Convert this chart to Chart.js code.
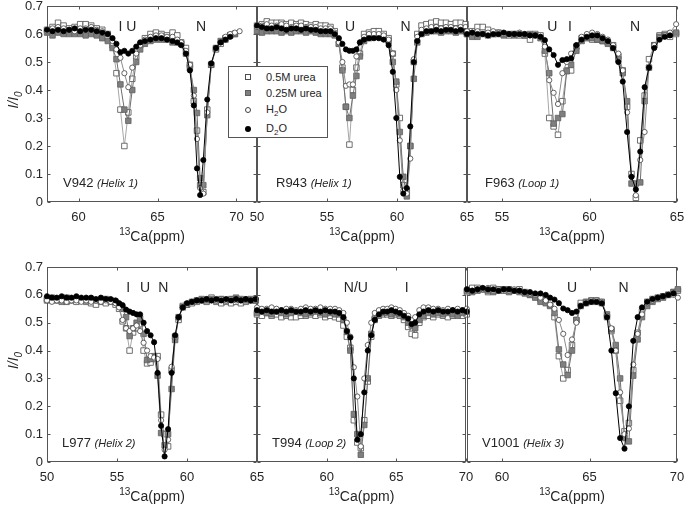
<!DOCTYPE html>
<html>
<head>
<meta charset="utf-8">
<script src="https://cdn.jsdelivr.net/npm/chart.js@4.4.1/dist/chart.umd.min.js"></script>
<style>
  body { margin: 0; background: #fff; width: 685px; height: 506px; position: relative; overflow: hidden;
         font-family: "Liberation Sans", Arial, sans-serif; }
  canvas { position: absolute; }
  #legend { position: absolute; left: 228px; top: 66px; width: 98px; height: 70px; background: #fff;
            border: 1px solid #555; z-index: 10; color: #262626; font-size: 11px; }
  #legend .mk { position: absolute; box-sizing: border-box; }
  #legend .tx { position: absolute; left: 37px; white-space: nowrap; line-height: 12px; }
  #legend sub { font-size: 8px; vertical-align: -3px; }
</style>
</head>
<body>
<div id="legend">
  <span class="mk" style="left:16px;top:7px;width:6px;height:6px;border:1px solid #4d4d4d;background:#fff"></span>
  <span class="tx" style="top:4px">0.5M urea</span>
  <span class="mk" style="left:16px;top:23px;width:6px;height:6px;border:1px solid #5f5f5f;background:#7f7f7f"></span>
  <span class="tx" style="top:20px">0.25M urea</span>
  <span class="mk" style="left:16px;top:40px;width:6px;height:6px;border:1px solid #404040;border-radius:50%;background:#fff"></span>
  <span class="tx" style="top:36px">H<sub>2</sub>O</span>
  <span class="mk" style="left:16px;top:59px;width:6px;height:6px;border-radius:50%;background:#000"></span>
  <span class="tx" style="top:55px">D<sub>2</sub>O</span>
</div>
<script>
// ---- V942 (Helix 1) ----
const x_V942 = [58.0, 58.35, 58.7, 59.05, 59.4, 59.75, 60.1, 60.45, 60.8, 61.15, 61.5, 61.85, 62.15, 62.4, 62.65, 62.9, 63.15, 63.4, 63.65, 63.9, 64.2, 64.55, 64.9, 65.25, 65.6, 65.95, 66.25, 66.5, 66.8, 67.05, 67.3, 67.5, 67.7, 67.9, 68.15, 68.4, 68.7, 69.0, 69.3, 69.6, 69.9, 70.2];
const u05_V942 = [0.615, 0.625, 0.64, 0.63, 0.62, 0.625, 0.635, 0.635, 0.63, 0.62, 0.615, 0.60, 0.56, 0.46, 0.33, 0.20, 0.32, 0.44, 0.52, 0.56, 0.585, 0.60, 0.605, 0.60, 0.595, 0.605, 0.595, 0.57, 0.55, 0.49, 0.36, 0.255, 0.06, 0.035, 0.33, 0.49, 0.545, 0.565, 0.58, 0.595, 0.60, null];
const u025_V942 = [0.605, 0.595, 0.605, 0.60, 0.60, 0.60, 0.60, 0.595, 0.60, 0.595, 0.585, 0.575, 0.55, 0.51, 0.42, 0.33, 0.29, 0.40, 0.50, 0.545, 0.565, 0.575, 0.58, 0.58, 0.58, 0.57, 0.57, 0.565, 0.53, 0.48, 0.40, 0.318, 0.085, 0.06, 0.31, 0.49, 0.55, 0.575, 0.585, 0.595, 0.60, null];
const h2o_V942 = [0.61, 0.62, 0.625, 0.62, 0.615, 0.61, 0.62, 0.62, 0.625, 0.615, 0.61, 0.60, 0.575, 0.545, 0.515, 0.46, 0.41, 0.48, 0.53, 0.56, 0.58, 0.59, 0.595, 0.595, 0.59, 0.59, 0.58, 0.57, 0.54, 0.49, 0.38, 0.225, 0.05, 0.03, 0.32, 0.49, 0.55, 0.57, 0.59, 0.60, 0.605, 0.61];
const d2o_V942 = [0.615, 0.61, 0.615, 0.61, 0.615, 0.62, 0.61, 0.615, 0.615, 0.61, 0.605, 0.60, 0.585, 0.565, 0.535, 0.54, 0.53, 0.54, 0.555, 0.57, 0.575, 0.58, 0.585, 0.585, 0.58, 0.575, 0.57, 0.56, 0.53, 0.47, 0.345, 0.12, 0.025, 0.15, 0.366, 0.495, 0.55, 0.57, 0.58, 0.59, null, null];

// ---- R943 (Helix 1) ----
const x_R943 = [50.0, 50.35, 50.7, 51.05, 51.4, 51.75, 52.1, 52.45, 52.8, 53.15, 53.5, 53.85, 54.2, 54.55, 54.9, 55.25, 55.55, 55.85, 56.1, 56.35, 56.6, 56.85, 57.1, 57.35, 57.65, 58.0, 58.35, 58.7, 59.05, 59.4, 59.7, 59.95, 60.2, 60.45, 60.7, 60.95, 61.2, 61.45, 61.75, 62.1, 62.45, 62.8, 63.15, 63.5, 63.85, 64.2, 64.55, 64.9];
const u05_R943 = [0.63, 0.635, 0.645, 0.64, 0.64, 0.64, 0.635, 0.64, 0.635, 0.64, 0.635, 0.63, 0.635, 0.63, 0.63, 0.625, 0.61, 0.565, 0.48, 0.34, 0.205, 0.40, 0.48, 0.53, 0.60, 0.605, 0.61, 0.61, 0.60, 0.585, 0.53, 0.42, 0.30, 0.06, 0.04, 0.20, 0.50, 0.60, 0.63, 0.635, 0.64, 0.645, 0.64, 0.64, 0.635, 0.64, 0.64, 0.635];
const u025_R943 = [0.61, 0.605, 0.61, 0.61, 0.61, 0.605, 0.61, 0.605, 0.61, 0.61, 0.605, 0.61, 0.605, 0.60, 0.60, 0.60, 0.595, 0.565, 0.47, 0.34, 0.30, 0.38, 0.45, 0.52, 0.575, 0.585, 0.59, 0.59, 0.585, 0.575, 0.50, 0.43, 0.25, 0.09, 0.02, 0.20, 0.44, 0.57, 0.60, 0.605, 0.61, 0.61, 0.605, 0.61, 0.61, 0.605, 0.61, 0.61];
const h2o_R943 = [0.625, 0.63, 0.635, 0.63, 0.63, 0.635, 0.63, 0.625, 0.63, 0.63, 0.625, 0.625, 0.625, 0.62, 0.62, 0.62, 0.605, 0.57, 0.50, 0.415, 0.42, 0.42, 0.52, 0.57, 0.59, 0.60, 0.60, 0.60, 0.595, 0.58, 0.53, 0.40, 0.22, 0.04, 0.03, 0.155, 0.51, 0.59, 0.615, 0.62, 0.625, 0.625, 0.62, 0.625, 0.625, 0.62, 0.625, 0.625];
const d2o_R943 = [0.63, 0.625, 0.62, 0.62, 0.625, 0.62, 0.615, 0.62, 0.62, 0.615, 0.62, 0.615, 0.615, 0.61, 0.61, 0.61, 0.60, 0.585, 0.565, 0.545, 0.54, 0.54, 0.545, 0.57, 0.58, 0.585, 0.585, 0.585, 0.58, 0.56, 0.465, 0.30, 0.09, 0.03, 0.05, 0.27, 0.50, 0.575, 0.60, 0.61, 0.61, 0.615, 0.61, 0.615, 0.615, 0.61, 0.615, 0.61];

// ---- F963 (Loop 1) ----
const x_F963 = [53.0, 53.3, 53.6, 53.9, 54.2, 54.5, 54.8, 55.1, 55.4, 55.7, 56.0, 56.3, 56.6, 56.9, 57.2, 57.45, 57.7, 57.95, 58.2, 58.45, 58.7, 58.95, 59.25, 59.55, 59.85, 60.15, 60.45, 60.75, 61.05, 61.35, 61.65, 61.9, 62.15, 62.4, 62.65, 62.9, 63.15, 63.4, 63.7, 64.0, 64.3, 64.6, 64.95];
const u05_F963 = [0.60, 0.61, 0.625, 0.625, 0.615, 0.60, 0.605, 0.60, 0.595, 0.60, 0.595, 0.595, 0.58, 0.60, 0.595, 0.53, 0.30, 0.27, 0.24, 0.36, 0.47, 0.47, 0.555, 0.585, 0.59, 0.58, 0.58, 0.575, 0.57, 0.56, 0.52, 0.47, 0.34, 0.10, 0.015, 0.22, 0.38, 0.51, 0.56, 0.595, 0.60, 0.59, 0.60];
const u025_F963 = [0.60, 0.59, 0.59, 0.60, 0.595, 0.60, 0.60, 0.595, 0.60, 0.595, 0.60, 0.595, 0.60, 0.595, 0.585, 0.54, 0.46, 0.28, 0.30, 0.314, 0.467, 0.49, 0.54, 0.575, 0.585, 0.585, 0.58, 0.575, 0.565, 0.55, 0.51, 0.46, 0.36, 0.066, 0.066, 0.07, 0.36, 0.48, 0.56, 0.59, 0.595, 0.60, 0.605];
const h2o_F963 = [0.61, 0.605, 0.61, 0.60, 0.605, 0.61, 0.605, 0.60, 0.60, 0.60, 0.605, 0.60, 0.595, 0.595, 0.59, 0.555, 0.435, 0.39, 0.35, 0.46, 0.50, 0.53, 0.56, 0.59, 0.60, 0.605, 0.60, 0.59, 0.58, 0.56, 0.53, 0.47, 0.32, 0.09, 0.024, 0.15, 0.25, 0.48, 0.56, 0.585, 0.595, 0.605, 0.635];
const d2o_F963 = [0.60, 0.605, 0.60, 0.60, 0.595, 0.60, 0.60, 0.605, 0.60, 0.60, 0.60, 0.60, 0.595, 0.595, 0.59, 0.578, 0.545, 0.525, 0.49, 0.507, 0.51, 0.513, 0.56, 0.58, 0.59, 0.595, 0.595, 0.585, 0.575, 0.55, 0.50, 0.43, 0.25, 0.09, 0.045, 0.18, 0.41, 0.48, 0.55, 0.58, 0.59, 0.595, null];

// ---- L977 (Helix 2) ----
const x_L977 = [50.0, 50.35, 50.7, 51.05, 51.4, 51.75, 52.1, 52.45, 52.8, 53.15, 53.5, 53.85, 54.2, 54.55, 54.9, 55.15, 55.4, 55.65, 55.9, 56.15, 56.4, 56.65, 56.9, 57.15, 57.4, 57.65, 57.9, 58.15, 58.4, 58.65, 58.9, 59.15, 59.4, 59.7, 60.0, 60.35, 60.7, 61.05, 61.4, 61.75, 62.1, 62.45, 62.8, 63.15, 63.5, 63.85, 64.2, 64.55, 64.9];
const u05_L977 = [0.58, 0.585, 0.58, 0.575, 0.575, 0.58, 0.575, 0.58, 0.575, 0.57, 0.565, 0.575, 0.57, 0.575, 0.565, 0.55, 0.505, 0.48, 0.40, 0.465, 0.48, 0.495, 0.40, 0.354, 0.357, 0.37, 0.38, 0.17, 0.10, 0.056, 0.33, 0.45, 0.51, 0.56, 0.565, 0.57, 0.575, 0.58, 0.575, 0.59, 0.575, 0.57, 0.575, 0.57, 0.575, 0.57, 0.575, 0.58, 0.58];
const u025_L977 = [0.585, 0.59, 0.585, 0.58, 0.59, 0.585, 0.585, 0.58, 0.58, 0.585, 0.58, 0.58, 0.585, 0.58, 0.575, 0.565, 0.55, 0.52, 0.452, 0.48, 0.50, 0.515, 0.46, 0.366, 0.37, 0.38, 0.31, 0.104, 0.06, 0.10, 0.262, 0.438, 0.52, 0.555, 0.565, 0.575, 0.58, 0.585, 0.58, 0.585, 0.58, 0.585, 0.58, 0.585, 0.59, 0.585, 0.58, 0.585, 0.58];
const h2o_L977 = [0.58, 0.575, 0.58, 0.58, 0.575, 0.58, 0.58, 0.575, 0.58, 0.575, 0.58, 0.575, 0.58, 0.575, 0.57, 0.555, 0.51, 0.48, 0.47, 0.48, 0.49, 0.47, 0.428, 0.40, 0.38, 0.375, 0.37, 0.15, 0.044, 0.08, 0.342, 0.45, 0.52, 0.555, 0.565, 0.575, 0.58, 0.58, 0.585, 0.58, 0.58, 0.585, 0.58, 0.585, 0.58, 0.58, 0.585, 0.58, 0.585];
const d2o_L977 = [0.595, 0.59, 0.59, 0.595, 0.59, 0.59, 0.595, 0.59, 0.59, 0.59, 0.585, 0.59, 0.585, 0.585, 0.58, 0.57, 0.563, 0.547, 0.54, 0.535, 0.53, 0.53, 0.50, 0.47, 0.455, 0.43, 0.32, 0.13, 0.02, 0.118, 0.32, 0.455, 0.52, 0.555, 0.57, 0.575, 0.58, 0.58, 0.585, 0.58, 0.585, 0.58, 0.585, 0.58, 0.585, 0.58, 0.585, 0.58, 0.585];

// ---- T994 (Loop 2) ----
const x_T994 = [55.0, 55.35, 55.7, 56.05, 56.4, 56.75, 57.1, 57.45, 57.8, 58.15, 58.5, 58.85, 59.2, 59.55, 59.9, 60.25, 60.6, 60.9, 61.2, 61.45, 61.7, 61.95, 62.2, 62.45, 62.7, 62.95, 63.2, 63.45, 63.75, 64.05, 64.35, 64.65, 64.95, 65.25, 65.55, 65.85, 66.1, 66.35, 66.65, 66.95, 67.3, 67.65, 68.0, 68.35, 68.7, 69.05, 69.4, 69.75, 70.05];
const u05_T994 = [0.53, 0.525, 0.535, 0.525, 0.53, 0.52, 0.525, 0.52, 0.52, 0.525, 0.525, 0.53, 0.525, 0.53, 0.52, 0.525, 0.52, 0.515, 0.49, 0.45, 0.41, 0.15, 0.07, 0.05, 0.15, 0.289, 0.45, 0.51, 0.525, 0.53, 0.53, 0.525, 0.53, 0.525, 0.51, 0.485, 0.46, 0.455, 0.50, 0.52, 0.525, 0.52, 0.53, 0.525, 0.52, 0.525, 0.53, 0.525, 0.53];
const u025_T994 = [0.535, 0.54, 0.535, 0.53, 0.54, 0.535, 0.53, 0.535, 0.54, 0.535, 0.53, 0.535, 0.54, 0.535, 0.53, 0.535, 0.53, 0.53, 0.51, 0.467, 0.40, 0.172, 0.10, 0.026, 0.133, 0.30, 0.46, 0.515, 0.53, 0.535, 0.535, 0.53, 0.535, 0.53, 0.52, 0.50, 0.49, 0.48, 0.51, 0.525, 0.535, 0.53, 0.535, 0.53, 0.535, 0.53, 0.525, 0.535, 0.54];
const h2o_T994 = [0.555, 0.55, 0.55, 0.555, 0.55, 0.545, 0.55, 0.55, 0.545, 0.55, 0.555, 0.55, 0.55, 0.555, 0.55, 0.55, 0.55, 0.545, 0.535, 0.50, 0.45, 0.34, 0.235, 0.056, 0.30, 0.42, 0.50, 0.535, 0.545, 0.55, 0.55, 0.555, 0.55, 0.545, 0.535, 0.525, 0.51, 0.52, 0.545, 0.555, 0.555, 0.55, 0.55, 0.545, 0.55, 0.545, 0.55, 0.545, 0.55];
const d2o_T994 = [0.545, 0.54, 0.545, 0.54, 0.54, 0.545, 0.54, 0.545, 0.54, 0.54, 0.545, 0.54, 0.545, 0.54, 0.545, 0.54, 0.54, 0.535, 0.52, 0.47, 0.447, 0.30, 0.08, 0.10, 0.25, 0.40, 0.455, 0.51, 0.53, 0.54, 0.54, 0.545, 0.54, 0.535, 0.525, 0.515, 0.495, 0.50, 0.53, 0.54, 0.545, 0.54, 0.545, 0.54, 0.54, 0.545, 0.54, 0.545, 0.54];

// ---- V1001 (Helix 3) ----
const x_V1001 = [58.0, 58.3, 58.6, 58.9, 59.2, 59.5, 59.8, 60.1, 60.4, 60.7, 61.0, 61.3, 61.6, 61.9, 62.2, 62.5, 62.75, 63.0, 63.25, 63.5, 63.75, 64.0, 64.25, 64.5, 64.8, 65.1, 65.4, 65.7, 66.0, 66.25, 66.5, 66.75, 67.0, 67.25, 67.5, 67.75, 68.0, 68.3, 68.6, 68.9, 69.2, 69.5, 69.8, 70.05];
const u05_V1001 = [0.61, 0.625, 0.625, 0.62, 0.61, 0.625, 0.62, 0.615, 0.62, 0.615, 0.62, 0.61, 0.60, 0.595, 0.585, 0.58, 0.563, 0.52, 0.38, 0.30, 0.33, 0.42, 0.51, 0.571, 0.575, 0.58, 0.58, 0.575, 0.52, 0.47, 0.40, 0.22, 0.11, 0.14, 0.33, 0.464, 0.54, 0.575, 0.585, 0.59, 0.595, 0.60, 0.61, 0.615];
const u025_V1001 = [0.615, 0.61, 0.615, 0.62, 0.615, 0.61, 0.615, 0.62, 0.61, 0.615, 0.61, 0.605, 0.60, 0.59, 0.575, 0.57, 0.56, 0.535, 0.404, 0.35, 0.312, 0.40, 0.509, 0.56, 0.57, 0.575, 0.575, 0.57, 0.53, 0.476, 0.42, 0.30, 0.086, 0.074, 0.31, 0.44, 0.52, 0.56, 0.575, 0.585, 0.59, 0.60, 0.61, 0.62];
const h2o_V1001 = [0.62, 0.615, 0.62, 0.62, 0.625, 0.615, 0.62, 0.62, 0.615, 0.62, 0.615, 0.61, 0.605, 0.60, 0.59, 0.58, 0.565, 0.55, 0.51, 0.46, 0.384, 0.44, 0.50, 0.56, 0.575, 0.58, 0.58, 0.575, 0.525, 0.48, 0.40, 0.25, 0.10, 0.12, 0.35, 0.46, 0.53, 0.57, 0.58, 0.59, 0.595, 0.60, 0.60, 0.59];
const d2o_V1001 = [0.62, 0.615, 0.62, 0.625, 0.62, 0.62, 0.615, 0.62, 0.62, 0.615, 0.615, 0.61, 0.61, 0.605, 0.605, 0.60, 0.59, 0.583, 0.57, 0.551, 0.545, 0.535, 0.54, 0.56, 0.57, 0.575, 0.575, 0.57, 0.52, 0.40, 0.247, 0.086, 0.048, 0.20, 0.435, 0.52, 0.555, 0.575, 0.585, 0.59, 0.595, 0.60, 0.605, null];

const yTicks = [0, 0.1, 0.2, 0.3, 0.4, 0.5, 0.6, 0.7];

const FONT = "'Liberation Sans', Arial, sans-serif";
const INK = '#262626';

// series look, MATLAB-like: plotted 0.5M first, D2O last (on top)
const styles = [
  { label: '0.5M urea',  line: '#a6a6a6', face: '#ffffff', edge: '#4d4d4d', shape: 'rect',   r: 3.9, order: 3 },
  { label: '0.25M urea', line: '#6e6e6e', face: '#7f7f7f', edge: '#5f5f5f', shape: 'rect',   r: 3.9, order: 2 },
  { label: 'H2O',        line: '#8c8c8c', face: '#ffffff', edge: '#404040', shape: 'circle', r: 2.6, order: 1 },
  { label: 'D2O',        line: '#000000', face: '#000000', edge: '#000000', shape: 'circle', r: 2.6, order: 0 }
];

// axes frame with inward ticks on all four sides
const frame = {
  id: 'frame',
  beforeDatasetsDraw(chart) {
    const { ctx, chartArea: a, scales: { x, y } } = chart;
    const l = Math.round(a.left) + 0.5, r = Math.round(a.right) - 0.5;
    const t = Math.round(a.top) + 0.5, b = Math.round(a.bottom) - 0.5;
    ctx.save();
    ctx.strokeStyle = '#555';
    ctx.lineWidth = 1;
    ctx.strokeRect(l, t, r - l, b - t);
    ctx.beginPath();
    x.ticks.forEach(tk => {
      const px = Math.round(x.getPixelForValue(tk.value)) + 0.5;
      ctx.moveTo(px, b); ctx.lineTo(px, b - 3);
      ctx.moveTo(px, t); ctx.lineTo(px, t + 3);
    });
    yTicks.forEach(v => {
      const py = Math.round(y.getPixelForValue(v)) + 0.5;
      ctx.moveTo(l, py); ctx.lineTo(l + 3, py);
      ctx.moveTo(r, py); ctx.lineTo(r - 3, py);
    });
    ctx.stroke();
    ctx.restore();
  }
};

// axis titles, state letters and residue name
const panelText = {
  id: 'panelText',
  afterDatasetsDraw(chart, args, o) {
    const { ctx, chartArea: a, scales: { x, y } } = chart;
    ctx.save();
    ctx.fillStyle = INK;
    ctx.textBaseline = 'middle';
    ctx.textAlign = 'center';
    ctx.font = '14px ' + FONT;
    o.marks.forEach(m => ctx.fillText(m.t, x.getPixelForValue(m.x), y.getPixelForValue(0.625)));

    // residue name + (secondary structure)
    ctx.textAlign = 'left';
    ctx.textBaseline = 'alphabetic';
    ctx.font = '13px ' + FONT;
    const nx = a.left + o.nameDx, ny = a.bottom - 15;
    ctx.fillText(o.name, nx, ny);
    const nw = ctx.measureText(o.name + ' ').width;
    ctx.font = 'italic 11px ' + FONT;
    ctx.fillText(o.tag, nx + nw, ny);

    // x title: 13Ca(ppm)
    ctx.font = '10px ' + FONT;
    const w1 = ctx.measureText('13').width;
    ctx.font = '14px ' + FONT;
    const w2 = ctx.measureText('Ca(ppm)').width;
    const sx = (a.left + a.right) / 2 - (w1 + w2) / 2, base = a.bottom + 39;
    ctx.font = '10px ' + FONT;
    ctx.fillText('13', sx, base - 6);
    ctx.font = '14px ' + FONT;
    ctx.fillText('Ca(ppm)', sx + w1, base);

    // y title: I/I0
    if (o.yTitle) {
      ctx.translate(18, (a.top + a.bottom) / 2 - 4);
      ctx.rotate(-Math.PI / 2);
      ctx.font = 'italic 14px ' + FONT;
      const t1 = ctx.measureText('I/I').width;
      ctx.font = 'italic 10px ' + FONT;
      const t2 = ctx.measureText('0').width;
      ctx.font = 'italic 14px ' + FONT;
      ctx.fillText('I/I', -(t1 + t2) / 2, 0);
      ctx.font = 'italic 10px ' + FONT;
      ctx.fillText('0', -(t1 + t2) / 2 + t1, 4);
    }
    ctx.restore();
  }
};

function panel(box, xMin, xMax, xTicks, xs, series, text, yLabels) {
  const [left, top, right, bottom] = box;
  const L = yLabels ? left : 12, T = top < 100 ? top : 20, R = 8, B = 44;
  const c = document.createElement('canvas');
  c.width = right - left + L + R;
  c.height = bottom - top + T + B;
  c.style.left = (left - L) + 'px';
  c.style.top = (top - T) + 'px';
  document.body.appendChild(c);

  new Chart(c, {
    type: 'scatter',
    data: {
      datasets: series.map((ys, i) => {
        const s = styles[i];
        return {
          label: s.label,
          data: xs.map((v, k) => ({ x: v, y: ys[k] })),
          showLine: true,
          borderColor: s.line,
          borderWidth: 1,
          pointStyle: s.shape,
          pointRadius: s.r,
          pointBackgroundColor: s.face,
          pointBorderColor: s.edge,
          pointBorderWidth: 0.8,
          order: s.order,
          clip: false
        };
      })
    },
    options: {
      responsive: false,
      animation: false,
      devicePixelRatio: 1,
      layout: { padding: { top: T, right: R, left: 0, bottom: 0 } },
      plugins: {
        legend: { display: false },
        tooltip: { enabled: false },
        panelText: text
      },
      scales: {
        x: {
          type: 'linear', min: xMin, max: xMax,
          grid: { display: false, drawTicks: false },
          border: { display: false },
          ticks: { font: { family: FONT, size: 13 }, color: INK, padding: 8, maxRotation: 0, autoSkip: false },
          afterBuildTicks: s => { s.ticks = xTicks.map(v => ({ value: v })); },
          afterFit: s => { s.height = B; s.paddingLeft = 0; s.paddingRight = 0; }
        },
        y: {
          min: 0, max: 0.7,
          grid: { display: false, drawTicks: false },
          border: { display: false },
          ticks: {
            display: yLabels, font: { family: FONT, size: 13 }, color: INK, padding: 4,
            callback: v => String(+v.toFixed(1))
          },
          afterBuildTicks: s => { s.ticks = yTicks.map(v => ({ value: v })); },
          afterFit: s => { s.width = L; s.paddingTop = 0; s.paddingBottom = 0; }
        }
      }
    },
    plugins: [frame, panelText]
  });
}

panel([47, 6, 257, 202], 58, 71.3, [60, 65, 70], x_V942,
  [u05_V942, u025_V942, h2o_V942, d2o_V942],
  { marks: [{ t: 'I U', x: 63.1 }, { t: 'N', x: 67.75 }], name: 'V942', tag: '(Helix 1)', nameDx: 16, yTitle: true }, true);
panel([257, 6, 467, 202], 50, 65, [50, 55, 60, 65], x_R943,
  [u05_R943, u025_R943, h2o_R943, d2o_R943],
  { marks: [{ t: 'U', x: 56.64 }, { t: 'N', x: 60.62 }], name: 'R943', tag: '(Helix 1)', nameDx: 19, yTitle: false }, false);
panel([467, 6, 677, 202], 53, 65, [55, 60, 65], x_F963,
  [u05_F963, u025_F963, h2o_F963, d2o_F963],
  { marks: [{ t: 'U', x: 57.87 }, { t: 'I', x: 58.88 }, { t: 'N', x: 62.6 }], name: 'F963', tag: '(Loop 1)', nameDx: 18, yTitle: false }, false);
panel([47, 267, 257, 462], 50, 65, [50, 55, 60, 65], x_L977,
  [u05_L977, u025_L977, h2o_L977, d2o_L977],
  { marks: [{ t: 'I', x: 55.8 }, { t: 'U', x: 57.0 }, { t: 'N', x: 58.3 }], name: 'L977', tag: '(Helix 2)', nameDx: 15, yTitle: true }, true);
panel([257, 267, 466, 462], 55, 70, [60, 65, 70], x_T994,
  [u05_T994, u025_T994, h2o_T994, d2o_T994],
  { marks: [{ t: 'N/U', x: 62.1 }, { t: 'I', x: 65.75 }], name: 'T994', tag: '(Loop 2)', nameDx: 15, yTitle: false }, false);
panel([467, 267, 677, 462], 58, 70, [60, 65, 70], x_V1001,
  [u05_V1001, u025_V1001, h2o_V1001, d2o_V1001],
  { marks: [{ t: 'U', x: 64.0 }, { t: 'N', x: 66.95 }], name: 'V1001', tag: '(Helix 3)', nameDx: 15, yTitle: false }, false);
</script>
</body>
</html>
